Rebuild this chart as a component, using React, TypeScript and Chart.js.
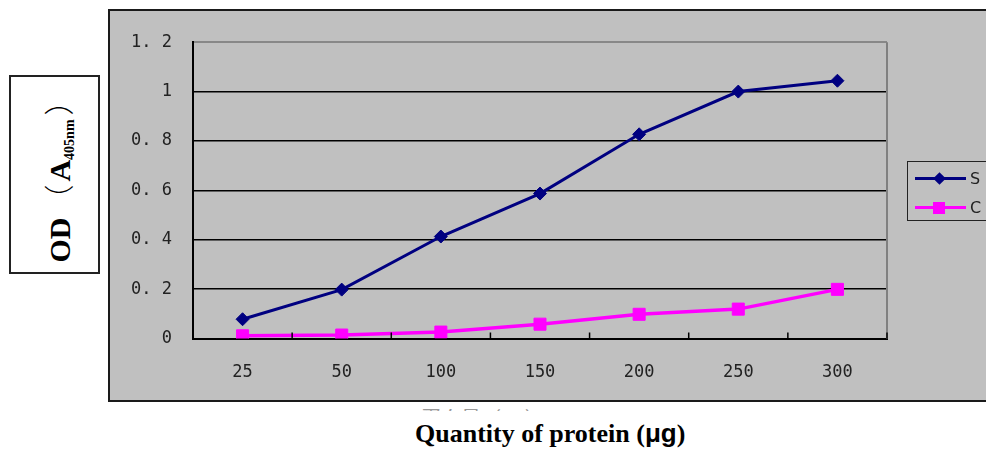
import { useEffect, useRef } from "react";
import { Chart, registerables } from "chart.js";

Chart.register(...registerables);

const categories = ["25", "50", "100", "150", "200", "250", "300"];
const seriesNames = ["S", "C"];
const seriesS = [0.078, 0.198, 0.413, 0.587, 0.827, 1.0, 1.044];
const seriesC = [0.011, 0.014, 0.026, 0.058, 0.098, 0.119, 0.199];
const yTickLabels = ["0", "0. 2", "0. 4", "0. 6", "0. 8", "1", "1. 2"];
const xTitle = "Quantity of protein (";
const xTitleUnit = "μg";
const hiddenTitle = "蛋白量（μg）";

const colorS = "#000080";
const colorC = "#ff00ff";

const framePlugin = {
  id: "frame",
  beforeDatasetsDraw(chart: any) {
    const { ctx, chartArea } = chart;
    ctx.save();
    ctx.strokeStyle = "#808080";
    ctx.lineWidth = 2;
    ctx.beginPath();
    ctx.moveTo(chartArea.right, chartArea.top);
    ctx.lineTo(chartArea.right, chartArea.bottom);
    ctx.stroke();
    ctx.restore();
  },
  afterDraw(chart: any) {
    const { ctx } = chart;
    const xs = chart.scales.x;
    const n = categories.length;
    ctx.save();
    ctx.strokeStyle = "#000";
    ctx.lineWidth = 1.5;
    ctx.beginPath();
    for (let i = 1; i <= n; i++) {
      const px =
        i < n
          ? (xs.getPixelForValue(i - 1) + xs.getPixelForValue(i)) / 2
          : xs.right;
      ctx.moveTo(px, xs.top);
      ctx.lineTo(px, xs.top - 6);
    }
    ctx.stroke();
    ctx.restore();
  },
};

function ChartCanvas() {
  const ref = useRef<HTMLCanvasElement | null>(null);
  useEffect(() => {
    if (!ref.current) return;
    const chart = new Chart(ref.current, {
      type: "line",
      data: {
        labels: categories,
        datasets: [
          {
            label: seriesNames[0],
            data: seriesS,
            borderColor: colorS,
            backgroundColor: colorS,
            borderWidth: 3,
            pointStyle: "rectRot",
            pointRadius: 6.5,
            pointBorderWidth: 1,
            tension: 0,
          },
          {
            label: seriesNames[1],
            data: seriesC,
            borderColor: colorC,
            backgroundColor: colorC,
            borderWidth: 3.5,
            pointStyle: "rect",
            pointRadius: 8.5,
            pointBorderWidth: 1,
            tension: 0,
          },
        ],
      },
      options: {
        responsive: false,
        animation: false,
        devicePixelRatio: 1,
        layout: { padding: { left: 0, top: 29, right: 99, bottom: 0 } },
        plugins: {
          legend: { display: false },
          tooltip: { enabled: false },
          title: { display: false },
        },
        scales: {
          x: {
            type: "category",
            offset: true,
            grid: { drawOnChartArea: false, drawTicks: false },
            border: { color: "#000", width: 2 },
            ticks: {
              padding: 24,
              color: "#222",
              font: { family: "'DejaVu Sans Mono'", size: 17 },
              maxRotation: 0,
            },
            afterFit(scale: any) {
              scale.height = 61.5;
            },
          },
          y: {
            min: 0,
            max: 1.2,
            grid: {
              drawTicks: false,
              color: (ctx: any) => (ctx.index === 6 ? "#888" : "#000"),
              lineWidth: (ctx: any) => (ctx.index === 6 ? 2 : 1.5),
            },
            border: { color: "#000", width: 2 },
            ticks: {
              stepSize: 0.2,
              padding: 21,
              color: "#222",
              font: { family: "'DejaVu Sans Mono'", size: 17 },
              callback: (_v: any, i: number) => yTickLabels[i],
            },
            afterFit(scale: any) {
              scale.width = 83;
            },
          },
        },
      },
      plugins: [framePlugin],
    } as any);
    return () => chart.destroy();
  }, []);
  return (
    <canvas
      ref={ref}
      width={876}
      height={389}
      style={{ position: "absolute", left: 110, top: 11, width: 876, height: 389 }}
    />
  );
}

export default function App() {
  const legendItem = (color: string, name: string, top: number, shape: "diamond" | "square") => (
    <div style={{ position: "absolute", left: 0, top, width: 100, height: 20 }}>
      <div
        style={{
          position: "absolute",
          left: 7,
          top: 8.5,
          width: 51,
          height: 3,
          background: color,
        }}
      />
      {shape === "diamond" ? (
        <div
          style={{
            position: "absolute",
            left: 31 - 4.5,
            top: 10 - 4.5,
            width: 9,
            height: 9,
            background: color,
            transform: "rotate(45deg)",
          }}
        />
      ) : (
        <div
          style={{
            position: "absolute",
            left: 31 - 6,
            top: 10 - 6,
            width: 12,
            height: 12,
            background: color,
          }}
        />
      )}
      <div
        style={{
          position: "absolute",
          left: 62,
          top: 0,
          height: 20,
          lineHeight: "20px",
          fontFamily: "'DejaVu Sans'",
          fontSize: 16,
          color: "#222",
        }}
      >
        {name}
      </div>
    </div>
  );

  return (
    <div
      style={{
        position: "absolute",
        left: 0,
        top: 0,
        width: 986,
        height: 459,
        overflow: "hidden",
        background: "#fff",
      }}
    >
      {/* Y axis title box */}
      <div
        style={{
          position: "absolute",
          left: 9,
          top: 75,
          width: 91,
          height: 199,
          border: "2px solid #222",
          boxSizing: "border-box",
          background: "#fff",
        }}
      >
        <div
          style={{
            position: "absolute",
            left: 52,
            top: 97,
            transform: "translate(-50%, -50%) rotate(-90deg)",
            whiteSpace: "nowrap",
            fontFamily: "'Liberation Serif'",
            fontWeight: "bold",
            fontSize: 30,
            lineHeight: "30px",
            color: "#000",
          }}
        >
          OD
          <span style={{ fontFamily: "'Noto Sans CJK SC'", fontWeight: 300, padding: "0 3px" }}>（</span>
          A
          <sub style={{ fontSize: 14, verticalAlign: "-4px" }}>405nm</sub>
          <span style={{ fontFamily: "'Noto Sans CJK SC'", fontWeight: 300, paddingLeft: 4 }}>）</span>
        </div>
      </div>

      {/* Gray chart box */}
      <div
        style={{
          position: "absolute",
          left: 108,
          top: 9,
          width: 900,
          height: 393,
          border: "2px solid #1a1a1a",
          boxSizing: "border-box",
          background: "#c0c0c0",
        }}
      />
      <ChartCanvas />

      {/* Legend */}
      <div
        style={{
          position: "absolute",
          left: 907,
          top: 161,
          width: 100,
          height: 60,
          border: "1.5px solid #222",
          boxSizing: "border-box",
        }}
      >
        {legendItem(colorS, seriesNames[0], 6.5, "diamond")}
        {legendItem(colorC, seriesNames[1], 35.5, "square")}
      </div>

      {/* Clipped hidden title remnant */}
      <div
        style={{
          position: "absolute",
          left: 421,
          top: 409,
          width: 200,
          height: 2,
          overflow: "hidden",
        }}
      >
        <div
          style={{
            fontFamily: "'Noto Sans CJK SC'",
            fontSize: 20,
            lineHeight: "20px",
            color: "#999",
            marginTop: -1,
            whiteSpace: "nowrap",
          }}
        >
          {hiddenTitle}
        </div>
      </div>

      {/* X axis title */}
      <div
        style={{
          position: "absolute",
          left: 415,
          top: 420,
          whiteSpace: "nowrap",
          fontFamily: "'Liberation Serif'",
          fontWeight: "bold",
          fontSize: 26,
          lineHeight: "26px",
          color: "#000",
        }}
      >
        {xTitle}
        <span style={{ fontFamily: "'Liberation Sans'" }}>{xTitleUnit}</span>)
      </div>
    </div>
  );
}
